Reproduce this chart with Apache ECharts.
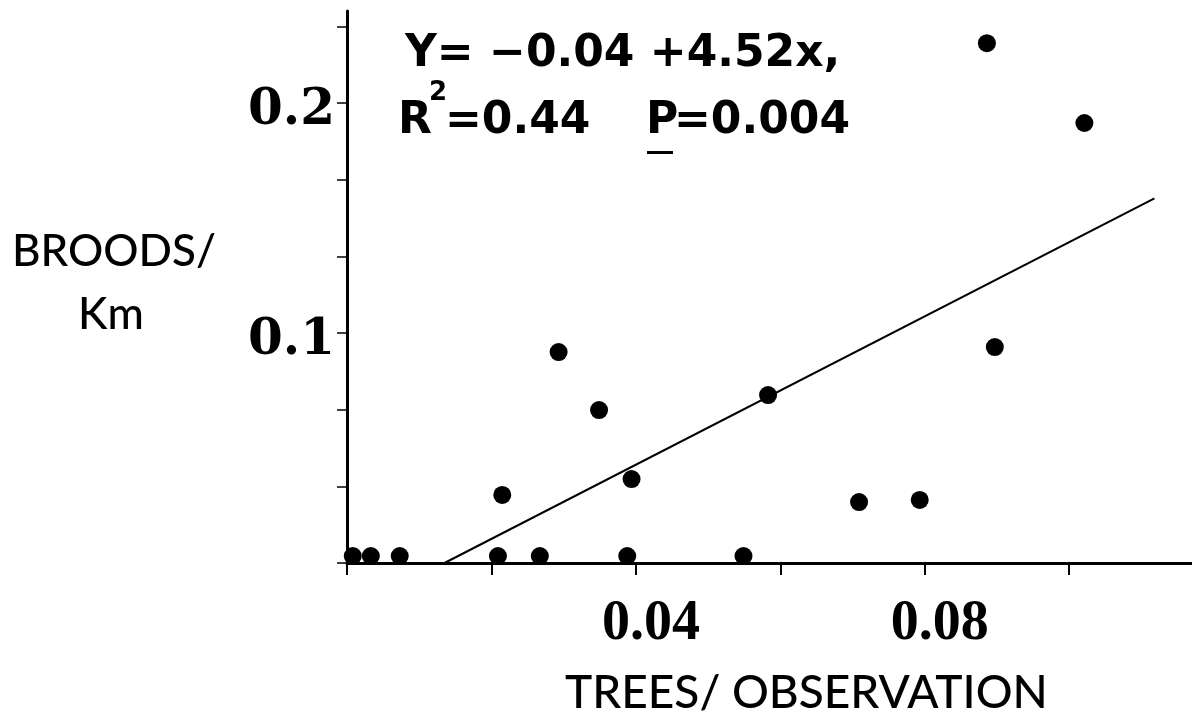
<!DOCTYPE html>
<html>
<head>
<meta charset="utf-8">
<title>Broods / Km vs Trees / Observation</title>
<script src="https://cdn.jsdelivr.net/npm/echarts@6/dist/echarts.min.js"></script>
<style>
  html, body {margin: 0; padding: 0; background: #fff;}
  #chart {width: 1192px; height: 722px;}
</style>
</head>
<body>
<div id="chart"></div>
<script>
// trees per observation (x) and broods per km (y)
const treesObs = [0.0008, 0.0033, 0.0073, 0.0209, 0.0267, 0.0388, 0.0549,
  0.0215, 0.0293, 0.0349, 0.0394, 0.0583, 0.0709, 0.0793, 0.0886, 0.0897, 0.1021]
const broodsKm = [0.003, 0.003, 0.003, 0.003, 0.003, 0.003, 0.003,
  0.0296, 0.0917, 0.0665, 0.0365, 0.073, 0.0265, 0.0274, 0.226, 0.0939, 0.1913]

// fitted line as drawn (start on the x axis, end at right)
const fitX = [0.0135, 0.1118]
const fitY = [0, 0.1585]

const xTickLabels = ['0.04', '0.08']
const yTickLabels = ['0.1', '0.2']

const eqLine1 = 'Y= \u22120.04 +4.52x,'

const chart = echarts.init(document.getElementById('chart'))

const pts = treesObs.map((x, i) => [x, broodsKm[i]])
const fit = fitX.map((x, i) => [x, fitY[i]])

const showLabel = function (list, v) {
  let out = ''
  list.forEach(s => {
    if (Math.abs(parseFloat(s) - v) < 1e-6) out = s
  })
  return out
}

const eqFont = 'bold 44px "DejaVu Sans"'

chart.setOption({
  animation: false,
  grid: {left: 347, right: 0, top: 11, bottom: 159},
  xAxis: {
    type: 'value',
    min: 0,
    max: 0.117,
    interval: 0.02,
    splitLine: {show: false},
    axisLine: {lineStyle: {color: '#000', width: 3}},
    axisTick: {length: 12, lineStyle: {color: '#000', width: 2}},
    axisLabel: {
      margin: 34,
      color: '#000',
      fontFamily: 'Liberation Serif',
      fontWeight: 'bold',
      fontSize: 56,
      padding: [0, 0, 0, 30],
      showMaxLabel: false,
      formatter: v => showLabel(xTickLabels, v)
    }
  },
  yAxis: {
    type: 'value',
    min: 0,
    max: 0.24,
    interval: 0.1 / 3,
    splitLine: {show: false},
    axisLine: {lineStyle: {color: '#000', width: 3}},
    axisTick: {length: 10, lineStyle: {color: '#000', width: 1.5}},
    axisLabel: {
      margin: 12,
      color: '#000',
      showMaxLabel: false,
      formatter: v => {
        const s = showLabel(yTickLabels, v)
        return s ? '{n|' + s + '}' : ''
      },
      rich: {
        n: {
          fontFamily: 'DejaVu Serif',
          fontWeight: 'bold',
          fontSize: 50,
          color: '#000',
          padding: [16, 0, 0, 0]
        }
      }
    }
  },
  graphic: [
    {
      type: 'text', left: 12, top: 230,
      style: {text: 'BROODS/', font: '500 44px Lato', fill: '#000'}
    },
    {
      type: 'text', left: 78, top: 293,
      style: {text: 'Km', font: '500 44px Lato', fill: '#000'}
    },
    {
      type: 'text', left: 565, top: 670,
      style: {text: 'TREES/ OBSERVATION', font: '500 46px Lato', fill: '#000'}
    },
    // regression text, line 1
    {
      type: 'text', left: 405, top: 33,
      style: {text: eqLine1, font: eqFont, fill: '#000'}
    },
    // line 2 in pieces: R, superscript 2, =0.44, underlined P, =0.004
    {type: 'text', left: 398, top: 100, style: {text: 'R', font: eqFont, fill: '#000'}},
    {type: 'text', left: 429, top: 80, style: {text: '2', font: 'bold 26px "DejaVu Sans"', fill: '#000'}},
    {type: 'text', left: 445, top: 100, style: {text: '=0.44', font: eqFont, fill: '#000'}},
    {type: 'text', left: 646, top: 100, style: {text: 'P', font: eqFont, fill: '#000'}},
    {type: 'text', left: 674, top: 100, style: {text: '=0.004', font: eqFont, fill: '#000'}},
    {type: 'rect', shape: {x: 647, y: 151, width: 26, height: 3}, style: {fill: '#000'}}
  ],
  series: [
    {
      type: 'line',
      data: fit,
      symbol: 'none',
      lineStyle: {color: '#000', width: 2}
    },
    {
      type: 'scatter',
      data: pts,
      symbolSize: 18,
      itemStyle: {color: '#000', opacity: 1}
    }
  ]
})
</script>
</body>
</html>
